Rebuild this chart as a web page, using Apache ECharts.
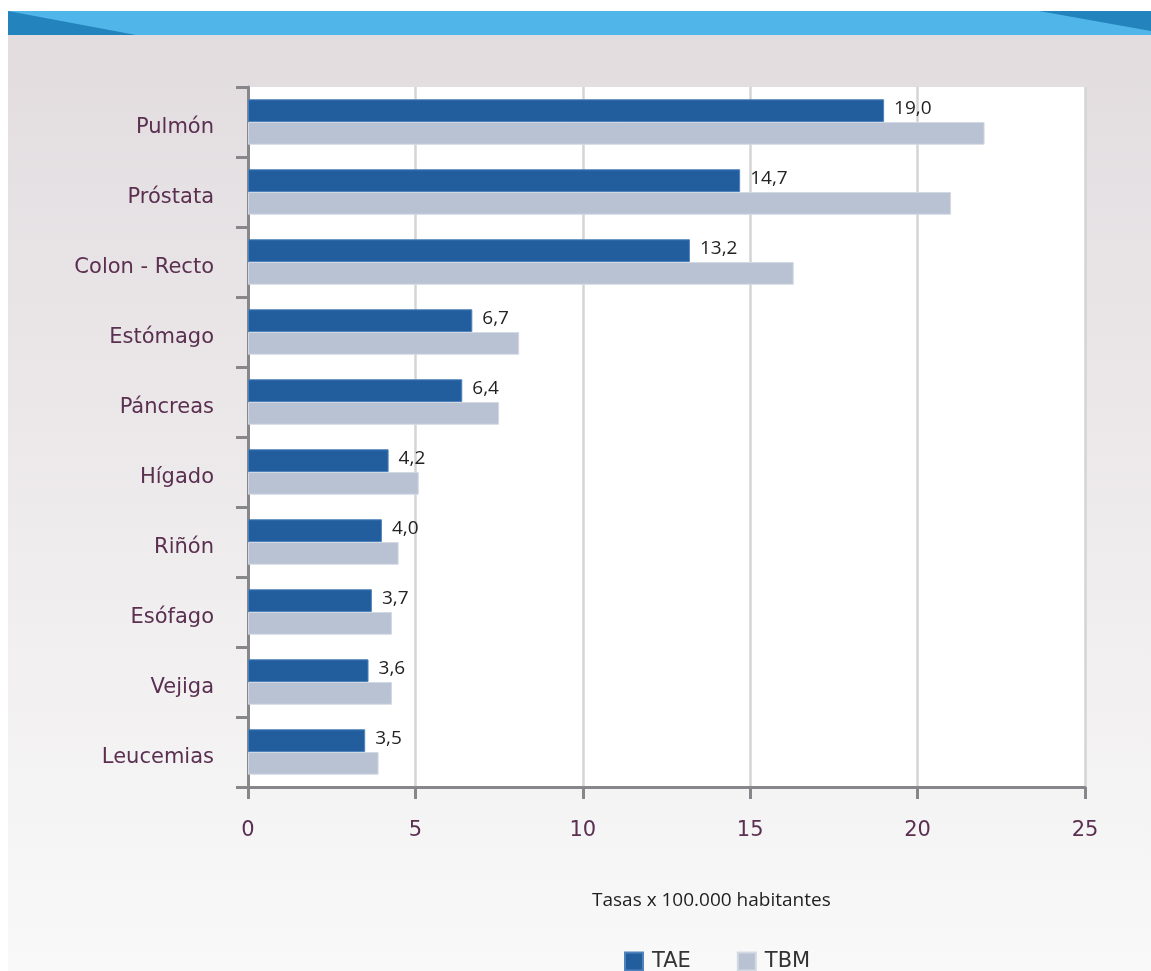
<!DOCTYPE html>
<html>
<head>
<meta charset="utf-8">
<script src="https://cdn.jsdelivr.net/npm/echarts@6/dist/echarts.min.js"></script>
<style>
  html, body { margin: 0; padding: 0; background: #ffffff; }
  #chart { width: 1151px; height: 971px; }
</style>
</head>
<body>
<div id="chart"></div>
<script>
// Cancer sites, top to bottom
const categories = ['Pulmón', 'Próstata', 'Colon - Recto', 'Estómago', 'Páncreas',
  'Hígado', 'Riñón', 'Esófago', 'Vejiga', 'Leucemias'];
// Age-standardised rate (TAE) per 100.000
const taeValues = [19.0, 14.7, 13.2, 6.7, 6.4, 4.2, 4.0, 3.7, 3.6, 3.5];
// Crude rate (TBM) per 100.000
const tbmValues = [22.0, 21.0, 16.3, 8.1, 7.5, 5.1, 4.5, 4.3, 4.3, 3.9];
const xTicks = [0, 5, 10, 15, 20, 25];
const axisTitle = 'Tasas x 100.000 habitantes';

const purple = '#5a2f50';
const labelFont = 'DejaVu Sans';
const chart = echarts.init(document.getElementById('chart'), null, { renderer: 'canvas' });

chart.setOption({
  animation: false,
  graphic: [
    // page background panel
    { type: 'rect', z: -10, shape: { x: 8, y: 35, width: 1143, height: 936 },
      style: { fill: new echarts.graphic.LinearGradient(0, 0, 0, 1, [
        { offset: 0, color: '#e2dcdf' }, { offset: 1, color: '#f9f9f9' }]) } },
    // header band
    { type: 'rect', z: -9, shape: { x: 8, y: 11, width: 1143, height: 24 },
      style: { fill: '#50b5e8' } },
    { type: 'polygon', z: -8, shape: { points: [[8, 11], [136, 35], [8, 35]] },
      style: { fill: '#2383bc' } },
    { type: 'polygon', z: -8, shape: { points: [[1039, 11], [1151, 11], [1151, 31]] },
      style: { fill: '#2383bc' } },
    // axis title
    { type: 'text', left: 592, top: 891,
      style: { text: axisTitle, font: '19px "Open Sans"', fill: '#1e1e1e' } }
  ],
  grid: {
    left: 248, right: 66, top: 87, bottom: 184,
    show: true, backgroundColor: '#ffffff', borderWidth: 0
  },
  legend: {
    top: 951, left: 624, padding: 0,
    itemWidth: 18, itemHeight: 18, itemGap: 46,
    icon: 'rect',
    textStyle: { fontFamily: labelFont, fontSize: 21, color: '#333333', padding: [0, 0, 0, 4] },
    data: ['TAE', 'TBM']
  },
  xAxis: {
    type: 'value', min: 0, max: 25, interval: 5,
    axisLine: { show: true, lineStyle: { color: '#87878b', width: 3 } },
    axisTick: { show: true, length: 12, lineStyle: { color: '#87878b', width: 3 } },
    splitLine: { show: true, lineStyle: { color: '#d4d4d4', width: 2.5 } },
    axisLabel: {
      margin: 33, fontFamily: labelFont, fontSize: 21, color: purple,
      formatter: v => xTicks.includes(v) ? String(v) : ''
    }
  },
  yAxis: {
    type: 'category', data: categories, inverse: true,
    axisLine: { show: true, lineStyle: { color: '#87878b', width: 3 } },
    axisTick: { show: true, length: 12, lineStyle: { color: '#87878b', width: 3 } },
    axisLabel: { margin: 34, fontFamily: labelFont, fontSize: 21, color: purple,
      verticalAlign: 'top', lineHeight: 12 }
  },
  series: [
    {
      name: 'TAE', type: 'bar', data: taeValues,
      barGap: '0%', barCategoryGap: '35%',
      itemStyle: { color: '#225e9e', borderColor: '#4f83bb', borderWidth: 1 },
      label: {
        show: true, position: 'right', distance: 10, offset: [0, -2],
        fontFamily: 'Open Sans', fontSize: 19, color: '#222222',
        formatter: p => p.value.toFixed(1).replace('.', ',')
      },
      z: 3
    },
    {
      name: 'TBM', type: 'bar', data: tbmValues,
      barGap: '0%', barCategoryGap: '35%',
      itemStyle: { color: '#b8c2d3', borderColor: '#d3d9e3', borderWidth: 1 },
      z: 2
    }
  ]
});
</script>
</body>
</html>
